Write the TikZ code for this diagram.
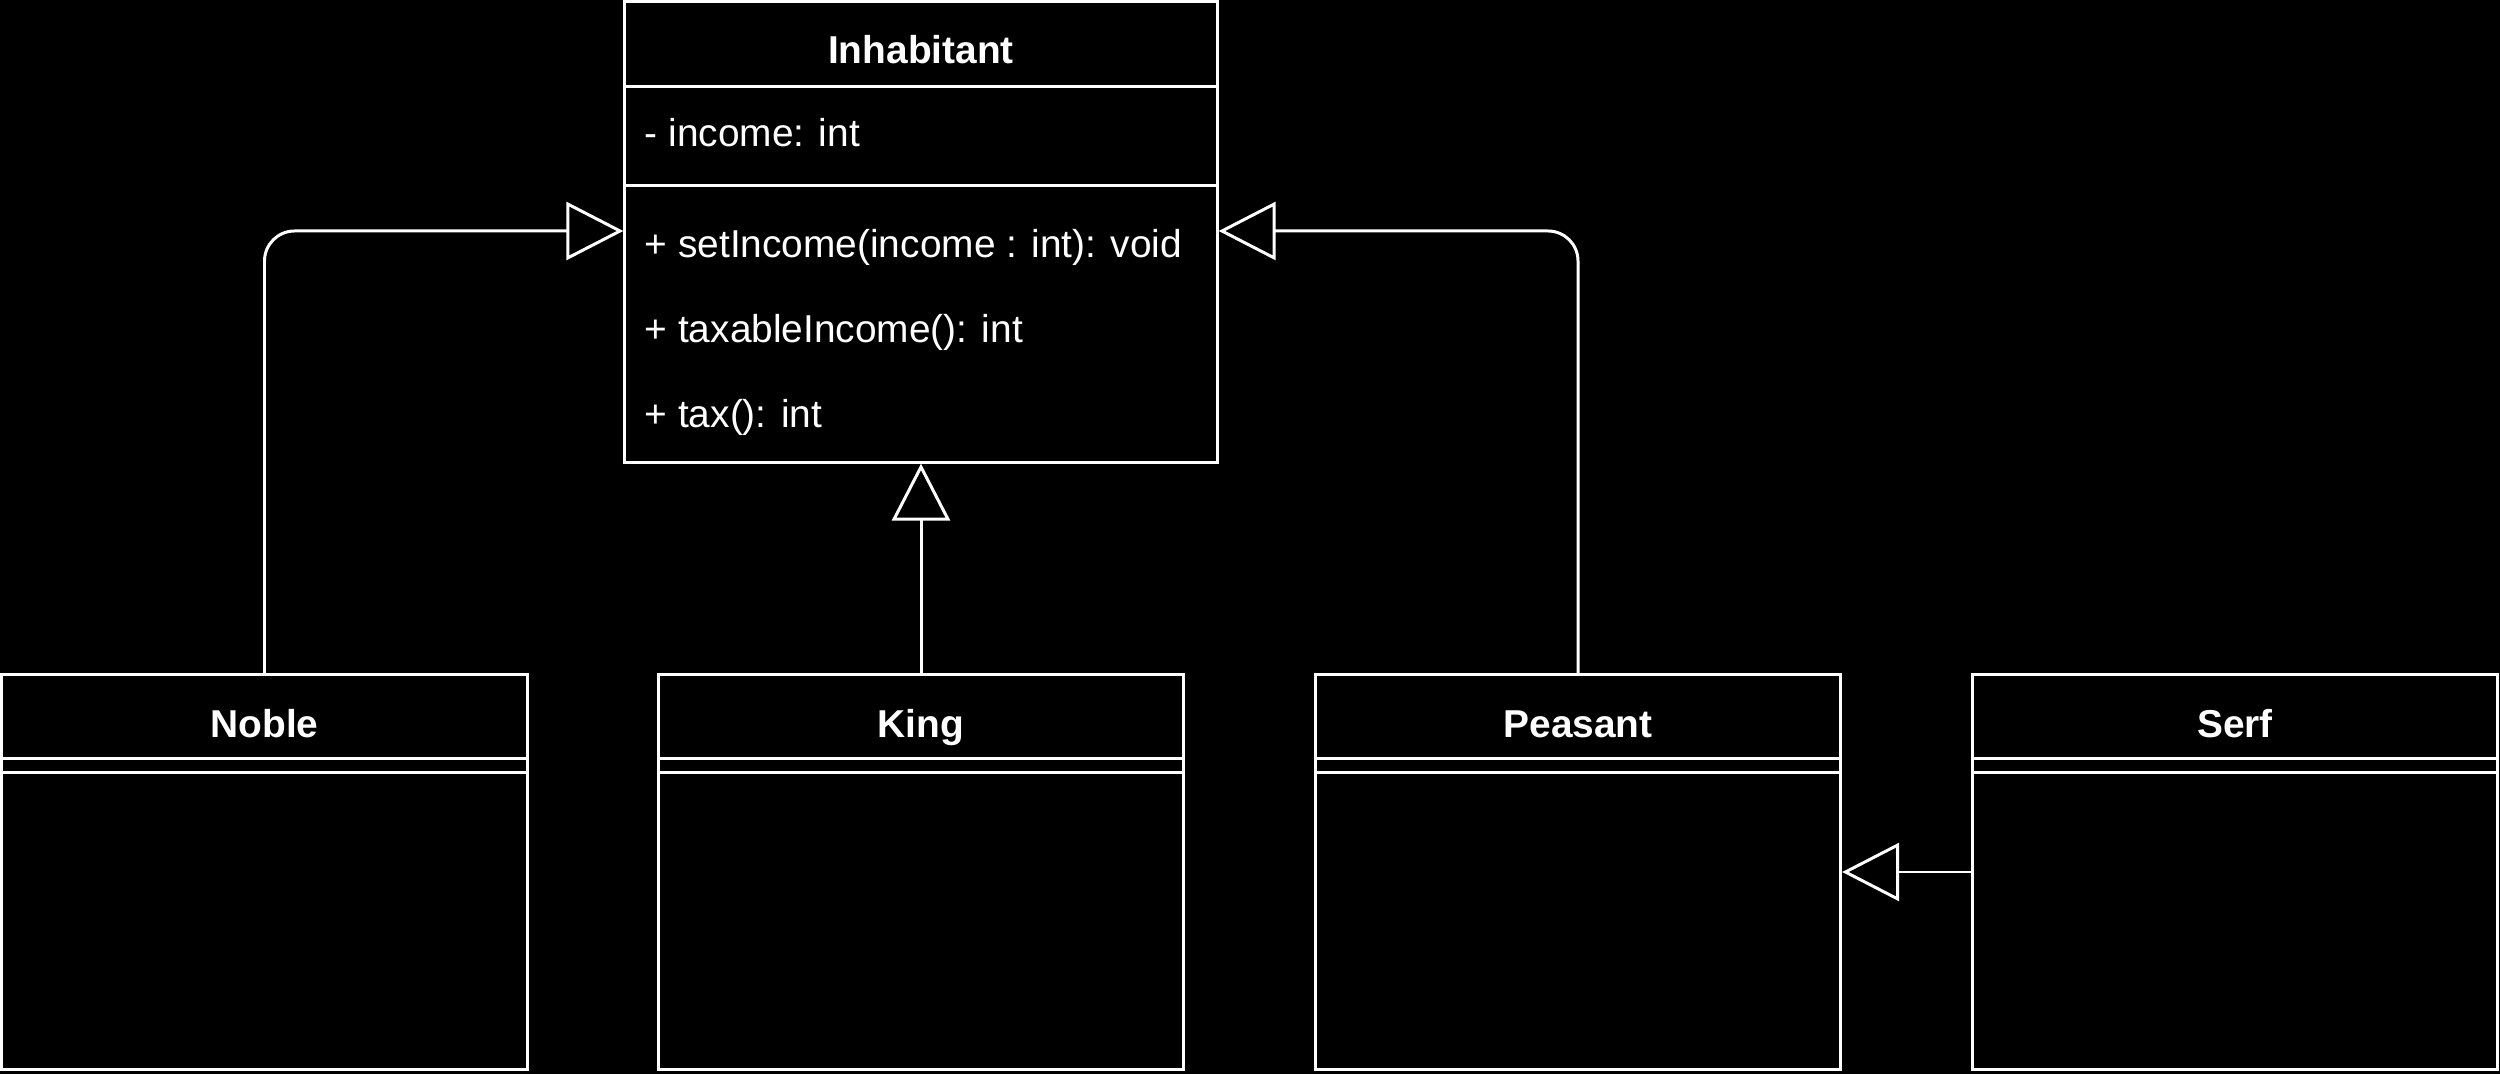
\documentclass[tikz,border=0pt]{standalone}
\usepackage{fontspec}
\setmainfont{Liberation Sans}
\usetikzlibrary{arrows.meta, positioning}

\begin{document}
\begin{tikzpicture}[
  x=0.01cm, y=-0.01cm,
  every node/.style={font=\fontsize{11.05pt}{13pt}\selectfont, text=white},
  classbox/.style={rectangle, draw=white, line width=0.85pt, fill=black, minimum width=5.25cm, minimum height=3.94cm, inner sep=0pt},
  titletext/.style={font=\fontsize{11.05pt}{13pt}\selectfont\bfseries, inner sep=0pt, text height=0.9em, text depth=0.21em},
  membertext/.style={anchor=west, inner sep=0pt, text height=0.9em, text depth=0.21em},
  divider/.style={draw=white, line width=0.85pt},
  genarrow/.style={draw=white, line width=0.85pt, rounded corners=0.3cm, -{Triangle[open, length=0.57cm, width=0.58cm]}},
]
\fill[black] (0,0) rectangle (2500,1074);
\useasboundingbox (0,0) rectangle (2500,1074);

% base class
\node[classbox, minimum width=5.92cm, minimum height=4.60cm] (inh) at (921,232) {};
\draw[divider] (inh.west |- 0,87) -- (inh.east |- 0,87);
\draw[divider] (inh.west |- 0,186) -- (inh.east |- 0,186);
\node[titletext] (inhtitle) at (921,51) {Inhabitant};
\node[membertext] (income) at (644,134) {- income: int};
\node[membertext] (setinc) at (644,245) {+ setIncome(income : int): void};
\node[membertext] (taxinc) at (644,330) {+ taxableIncome(): int};
\node[membertext] (tax) at (644,415) {+ tax(): int};

% subclasses
\node[classbox] (noble) at (264.5,872) {};
\node[classbox] (king) at (921,872) {};
\node[classbox] (peas) at (1578,872) {};
\node[classbox] (serf) at (2235,872) {};

\draw[divider] (noble.west |- 0,759) -- (noble.east |- 0,759);
\draw[divider] (noble.west |- 0,773) -- (noble.east |- 0,773);
\draw[divider] (king.west |- 0,759) -- (king.east |- 0,759);
\draw[divider] (king.west |- 0,773) -- (king.east |- 0,773);
\draw[divider] (peas.west |- 0,759) -- (peas.east |- 0,759);
\draw[divider] (peas.west |- 0,773) -- (peas.east |- 0,773);
\draw[divider] (serf.west |- 0,759) -- (serf.east |- 0,759);
\draw[divider] (serf.west |- 0,773) -- (serf.east |- 0,773);

\node[titletext] (nobletitle) at (264.5,725) {Noble};
\node[titletext] (kingtitle) at (921,725) {King};
\node[titletext] (peastitle) at (1578,725) {Peasant};
\node[titletext] (serftitle) at (2235,725) {Serf};

% generalisation
\draw[genarrow] (noble) |- (inh.west |- 0,231);
\draw[genarrow] (king.north) -- (inh.south);
\draw[genarrow] (peas) |- (inh.east |- 0,231);
\draw[genarrow] (serf) -- (peas);

\end{tikzpicture}
\end{document}
